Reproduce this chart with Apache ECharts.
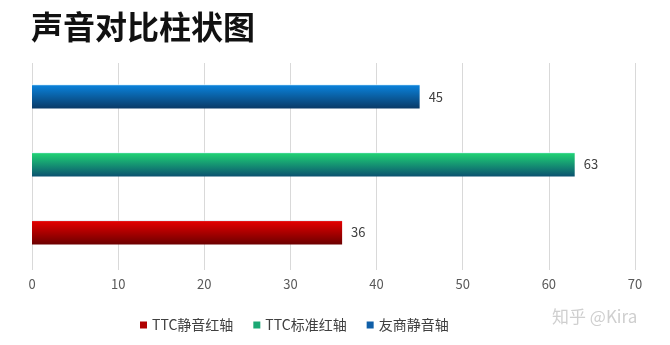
<!DOCTYPE html>
<html><head><meta charset="utf-8">
<script src="https://cdn.jsdelivr.net/npm/echarts@6/dist/echarts.min.js"></script>
<style>html,body{margin:0;padding:0;background:#fff}#c{width:670px;height:345px}</style>
</head><body><div id="c"></div>
<script>
const categories = [''];
const seriesNames = ['TTC静音红轴', 'TTC标准红轴', '友商静音轴'];
const redValues = [36];
const greenValues = [63];
const blueValues = [45];
const xTicks = [0, 10, 20, 30, 40, 50, 60, 70];

function grad(top, bottom) {
  return new echarts.graphic.LinearGradient(0, 0, 0, 1, [
    {offset: 0, color: '#d8f4ff'}, {offset: 0.05, color: top}, {offset: 1, color: bottom}
  ]);
}
const FONT = '"Noto Sans CJK SC", "Noto Sans", sans-serif';
function mk(name, data, top, bottom) {
  return {
    name: name, type: 'bar', data: data, barWidth: 24, barGap: '183%',
    xAxisIndex: 1, yAxisIndex: 1,
    itemStyle: {color: grad(top, bottom)},
    label: {show: true, position: 'right', distance: 9, color: '#404040', fontSize: 13, fontFamily: FONT},
    emphasis: {disabled: true}
  };
}
const chart = echarts.init(document.getElementById('c'));
chart.setOption({
  animation: false,
  title: {text: '声音对比柱状图', left: 26, top: 6,
    textStyle: {fontSize: 32, fontWeight: 'bold', color: '#111', fontFamily: FONT}},
  legend: {
    data: [
      {name: seriesNames[0], itemStyle: {color: '#b00000'}},
      {name: seriesNames[1], itemStyle: {color: '#1ba874'}},
      {name: seriesNames[2], itemStyle: {color: '#0f5fa8'}}
    ],
    top: 313, left: 135, itemWidth: 7, itemHeight: 7, itemGap: 20,
    icon: 'rect', textStyle: {fontSize: 14, color: '#404040', fontFamily: FONT}
  },
  graphic: [{type: 'text', left: 552, top: 308, style: {text: '知乎 @Kira', fill: '#cfcfcf', font: '17px "Noto Sans CJK SC", sans-serif'}}],
  grid: [
    {left: 32, right: 35, top: 63, bottom: 75},
    {left: 32, right: 35, top: 61, bottom: 77}
  ],
  xAxis: [{
    gridIndex: 0, type: 'value', min: xTicks[0], max: xTicks[xTicks.length - 1], interval: 10,
    axisLine: {show: false}, axisTick: {show: false},
    splitLine: {lineStyle: {color: '#d9d9d9'}},
    axisLabel: {color: '#595959', fontSize: 13, margin: 8, fontFamily: FONT}
  }, {
    gridIndex: 1, type: 'value', min: xTicks[0], max: xTicks[xTicks.length - 1], interval: 10,
    show: false
  }],
  yAxis: [
    {gridIndex: 0, type: 'category', data: categories, show: false},
    {gridIndex: 1, type: 'category', data: categories, show: false}
  ],
  series: [
    mk(seriesNames[2], blueValues, '#0a80d8', '#0a3a66'),
    mk(seriesNames[1], greenValues, '#1fd074', '#0b5270'),
    mk(seriesNames[0], redValues, '#e20000', '#6c0000')
  ]
});
</script></body></html>
